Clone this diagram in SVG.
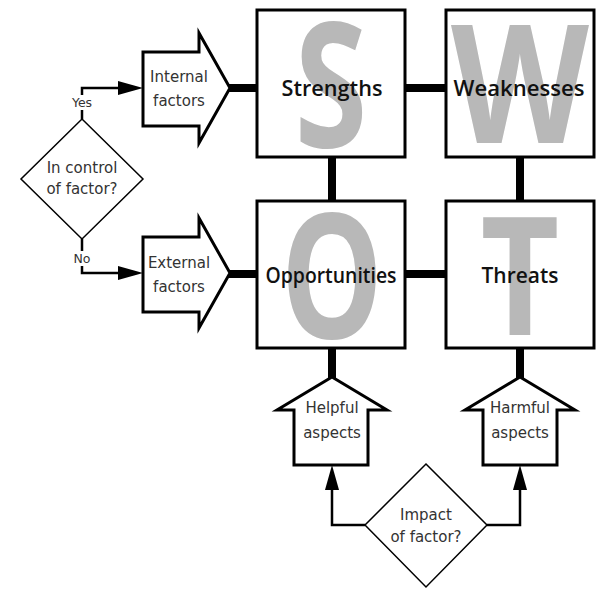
<svg xmlns="http://www.w3.org/2000/svg" width="598" height="600" viewBox="0 0 598 600">
<style>
.box{fill:#fff;stroke:#000;stroke-width:3}
.big{font-family:"Open Sans","DejaVu Sans",sans-serif;font-weight:bold;fill:#b8b8b8}
.lbl{font-family:"Open Sans","DejaVu Sans",sans-serif;font-weight:600;font-size:21.5px;fill:#111;text-anchor:middle}
.arrow{fill:#fff;stroke:#000;stroke-width:3;stroke-linejoin:miter}
.dia{fill:#fff;stroke:#000;stroke-width:1.5}
.txt{font-family:"DejaVu Sans","Liberation Sans",sans-serif;font-size:15px;fill:#333;text-anchor:middle}
.small{font-family:"DejaVu Sans","Liberation Sans",sans-serif;font-size:12.5px;fill:#333;text-anchor:middle}
.bar{stroke:#000;stroke-width:8;fill:none}
.line{stroke:#000;stroke-width:2.5;fill:none}
</style>
<rect width="598" height="600" fill="#fff"/>
<g id="connectors">
<line class="bar" x1="228" y1="88" x2="258" y2="88"/>
<line class="bar" x1="228" y1="274" x2="258" y2="274"/>
<line class="bar" x1="405" y1="88" x2="446" y2="88"/>
<line class="bar" x1="405" y1="274" x2="446" y2="274"/>
<line class="bar" x1="332" y1="157" x2="332" y2="201"/>
<line class="bar" x1="520" y1="157" x2="520" y2="201"/>
<line class="bar" x1="332" y1="348" x2="332" y2="380"/>
<line class="bar" x1="520" y1="348" x2="520" y2="380"/>
<path class="line" d="M82,119 V88 H118"/>
<path d="M118,81 L143,88 L118,95 z" fill="#000"/>
<path class="line" d="M82,239 V273 H118"/>
<path d="M118,266 L143,273 L118,280 z" fill="#000"/>
<path class="line" d="M365,525 H332 V490"/>
<path d="M325,490 L332,465 L339,490 z" fill="#000"/>
<path class="line" d="M487,525 H520 V490"/>
<path d="M513,490 L520,465 L527,490 z" fill="#000"/>
<rect x="69" y="95" width="26" height="15" fill="#fff"/>
<text class="small" x="82" y="107">Yes</text>
<rect x="71" y="251" width="22" height="15" fill="#fff"/>
<text class="small" x="82" y="263">No</text>
</g>
<g id="strengths">
<rect class="box" x="257" y="10" width="148" height="147"/>
<text class="big" font-size="174" transform="translate(331,147) scale(0.76,1)" text-anchor="middle">S</text>
<text class="lbl" x="332" y="96" textLength="101" lengthAdjust="spacingAndGlyphs">Strengths</text>
</g>
<g id="weaknesses">
<rect class="box" x="446" y="10" width="148" height="147"/>
<text class="big" font-size="166" transform="translate(520,143) scale(0.86,1)" text-anchor="middle">W</text>
<text class="lbl" x="519" y="96" textLength="131" lengthAdjust="spacingAndGlyphs">Weaknesses</text>
</g>
<g id="opportunities">
<rect class="box" x="257" y="201" width="148" height="147"/>
<text class="big" font-size="174" transform="translate(332,338) scale(0.74,1)" text-anchor="middle">O</text>
<text class="lbl" x="331" y="283" textLength="131" lengthAdjust="spacingAndGlyphs">Opportunities</text>
</g>
<g id="threats">
<rect class="box" x="446" y="201" width="148" height="147"/>
<text class="big" font-size="166" transform="translate(520,335) scale(0.82,1)" text-anchor="middle">T</text>
<text class="lbl" x="520" y="283" textLength="77" lengthAdjust="spacingAndGlyphs">Threats</text>
</g>
<g id="internal">
<path class="arrow" d="M143,52 H199 V33 L230,88 L199,143 V126 H143 z"/>
<text class="txt" x="179" y="82">Internal</text>
<text class="txt" x="179" y="106">factors</text>
</g>
<g id="external">
<path class="arrow" d="M143,237 H199 V218 L230,273 L199,328 V312 H143 z"/>
<text class="txt" x="179" y="268">External</text>
<text class="txt" x="179" y="292">factors</text>
</g>
<g id="control">
<path class="dia" d="M82,119 L143,179 L82,239 L21,179 z"/>
<text class="txt" x="82" y="173">In control</text>
<text class="txt" x="82" y="194">of factor?</text>
</g>
<g id="helpful">
<path class="arrow" d="M332,377 L387,410 H368 V465 H294 V410 H277 z"/>
<text class="txt" x="332" y="413">Helpful</text>
<text class="txt" x="332" y="438">aspects</text>
</g>
<g id="harmful">
<path class="arrow" d="M520,377 L575,410 H557 V465 H483 V410 H465 z"/>
<text class="txt" x="520" y="413">Harmful</text>
<text class="txt" x="520" y="438">aspects</text>
</g>
<g id="impact">
<path class="dia" d="M426,464 L487,525 L426,587 L365,525 z"/>
<text class="txt" x="426" y="520">Impact</text>
<text class="txt" x="426" y="542">of factor?</text>
</g>
</svg>
